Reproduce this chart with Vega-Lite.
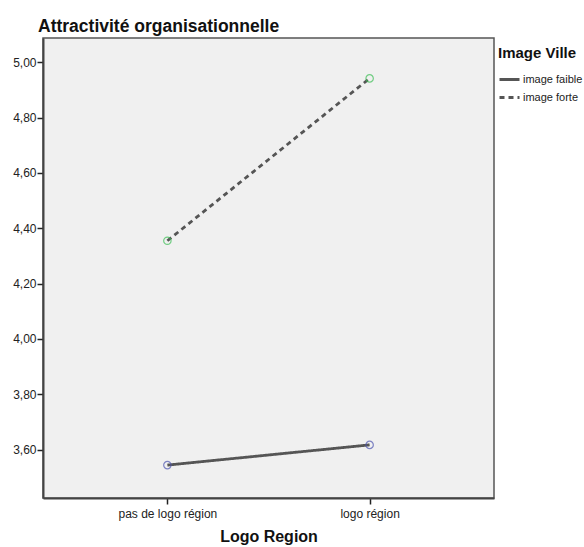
{
  "$schema": "https://vega.github.io/schema/vega-lite/v6.json",
  "autosize": "none",
  "padding": {"left": 43, "top": 38, "right": 90, "bottom": 49},
  "width": 451,
  "height": 460,
  "background": "white",
  "title": {
    "text": "Attractivité organisationnelle",
    "anchor": "start",
    "frame": "group",
    "dx": -5,
    "offset": 3,
    "font": "Liberation Sans",
    "fontSize": 17.5,
    "fontWeight": "bold",
    "color": "#111111"
  },
  "config": {
    "view": {"fill": "#f0f0f0", "stroke": "#555555", "strokeWidth": 1.5},
    "font": "Liberation Sans"
  },
  "data": {
    "values": [
      {"logo": "pas de logo région", "image": "image faible", "valeur": 3.544},
      {"logo": "logo région", "image": "image faible", "valeur": 3.617},
      {"logo": "pas de logo région", "image": "image forte", "valeur": 4.355},
      {"logo": "logo région", "image": "image forte", "valeur": 4.942}
    ]
  },
  "resolve": {"scale": {"stroke": "independent"}, "legend": {"stroke": "independent"}},
  "encoding": {
    "x": {
      "field": "logo",
      "type": "nominal",
      "sort": ["pas de logo région", "logo région"],
      "scale": {"type": "point", "padding": 0.615},
      "axis": {
        "title": "Logo Region",
        "titleFont": "Liberation Sans",
        "titleFontSize": 16,
        "titleFontWeight": "bold",
        "titleColor": "#111111",
        "titlePadding": 9,
        "labelAngle": 0,
        "labelFont": "Liberation Sans",
        "labelFontSize": 12,
        "labelColor": "#222222",
        "labelPadding": 4,
        "tickSize": 6,
        "tickColor": "#222222",
        "tickWidth": 1.5,
        "domainColor": "#444444",
        "domainWidth": 2,
        "grid": false
      }
    },
    "y": {
      "field": "valeur",
      "type": "quantitative",
      "scale": {"domain": [3.425, 5.088], "nice": false, "zero": false},
      "axis": {
        "title": null,
        "values": [3.6, 3.8, 4.0, 4.2, 4.4, 4.6, 4.8, 5.0],
        "labelExpr": "replace(format(datum.value, '.2f'), '.', ',')",
        "labelFont": "Liberation Sans",
        "labelFontSize": 12,
        "labelColor": "#222222",
        "labelPadding": 1,
        "tickSize": 6,
        "tickColor": "#222222",
        "tickWidth": 1.5,
        "domainColor": "#444444",
        "domainWidth": 2,
        "grid": false
      }
    }
  },
  "layer": [
    {
      "mark": {"type": "line", "color": "#555555", "strokeWidth": 2.8},
      "encoding": {
        "strokeDash": {
          "field": "image",
          "type": "nominal",
          "scale": {"domain": ["image faible", "image forte"], "range": [[1, 0], [5, 4]]},
          "legend": {
            "title": "Image Ville",
            "orient": "none",
            "legendX": 455,
            "legendY": 8,
            "titleFont": "Liberation Sans",
            "titleFontSize": 15,
            "titleFontWeight": "bold",
            "titleColor": "#111111",
            "titlePadding": 7,
            "labelFont": "Liberation Sans",
            "labelFontSize": 11,
            "labelColor": "#222222",
            "labelOffset": 2,
            "symbolType": "stroke",
            "symbolStrokeColor": "#555555",
            "symbolStrokeWidth": 2.8,
            "symbolSize": 400,
            "rowPadding": -9,
            "padding": 0
          }
        }
      }
    },
    {
      "mark": {"type": "point", "filled": false, "size": 55, "strokeWidth": 1.2},
      "encoding": {
        "stroke": {
          "field": "image",
          "type": "nominal",
          "scale": {"domain": ["image faible", "image forte"], "range": ["#4d55b0", "#3cbf55"]},
          "legend": null
        }
      }
    }
  ]
}
